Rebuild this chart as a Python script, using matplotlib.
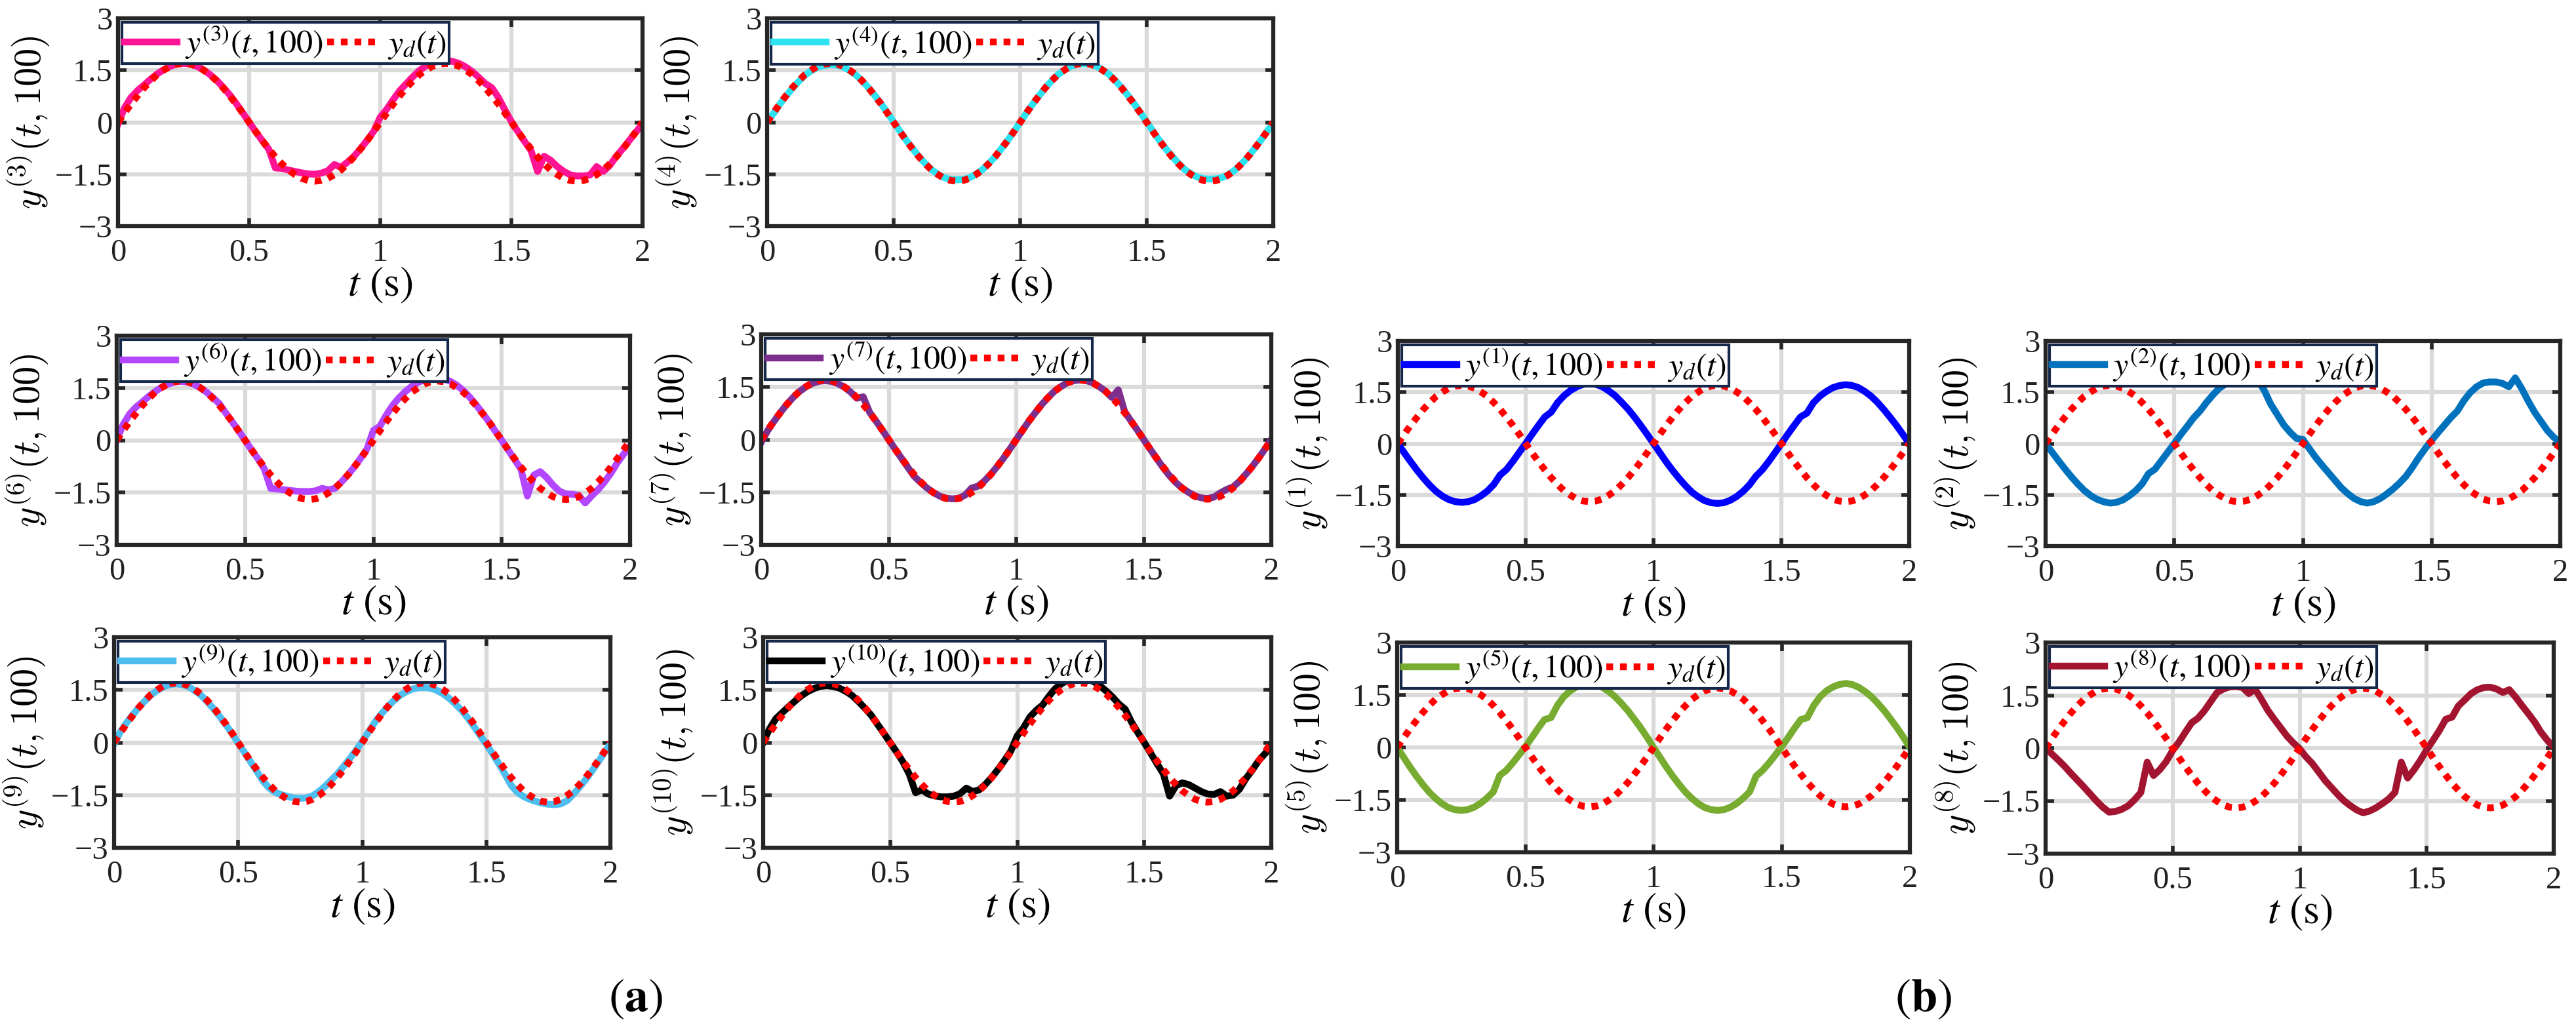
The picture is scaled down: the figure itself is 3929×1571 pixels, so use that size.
import numpy as np
import matplotlib
matplotlib.use('Agg')
from matplotlib import pyplot as plt

plt.rcParams['font.family'] = 'serif'
plt.rcParams['font.serif'] = ['Liberation Serif', 'DejaVu Serif']
plt.rcParams['mathtext.fontset'] = 'stix'
plt.rcParams['axes.unicode_minus'] = True

# time grid of the sampled curves (s), step 0.025
t = np.arange(81) * 0.025

# desired trajectory
y_d = [0.00, 0.27, 0.53, 0.77, 1.00, 1.20, 1.38, 1.51, 1.62, 1.68,
       1.70, 1.68, 1.62, 1.51, 1.38, 1.20, 1.00, 0.77, 0.53, 0.27,
       0.00, -0.27, -0.53, -0.77, -1.00, -1.20, -1.38, -1.51, -1.62, -1.68,
       -1.70, -1.68, -1.62, -1.51, -1.38, -1.20, -1.00, -0.77, -0.53, -0.27,
       0.00, 0.27, 0.53, 0.77, 1.00, 1.20, 1.38, 1.51, 1.62, 1.68,
       1.70, 1.68, 1.62, 1.51, 1.38, 1.20, 1.00, 0.77, 0.53, 0.27,
       0.00, -0.27, -0.53, -0.77, -1.00, -1.20, -1.38, -1.51, -1.62, -1.68,
       -1.70, -1.68, -1.62, -1.51, -1.38, -1.20, -1.00, -0.77, -0.53, -0.27,
       0.00]

# agent outputs after 100 iterations
y_1 = [0.00, -0.27, -0.53, -0.78, -1.01, -1.22, -1.40, -1.54, -1.64, -1.70,
       -1.72, -1.70, -1.64, -1.53, -1.39, -1.20, -0.92, -0.76, -0.52, -0.26,
       0.00, 0.27, 0.53, 0.78, 0.92, 1.20, 1.40, 1.55, 1.66, 1.73,
       1.75, 1.73, 1.66, 1.54, 1.40, 1.21, 1.01, 0.78, 0.53, 0.27,
       0.00, -0.27, -0.54, -0.79, -1.02, -1.23, -1.42, -1.56, -1.67, -1.73,
       -1.75, -1.73, -1.66, -1.55, -1.40, -1.21, -0.96, -0.77, -0.53, -0.27,
       0.00, 0.27, 0.53, 0.78, 0.89, 1.19, 1.38, 1.52, 1.63, 1.69,
       1.72, 1.70, 1.64, 1.53, 1.39, 1.21, 1.00, 0.77, 0.53, 0.27,
       0.00]

y_2 = [0.00, -0.25, -0.50, -0.74, -0.97, -1.18, -1.37, -1.52, -1.63, -1.70,
       -1.74, -1.72, -1.65, -1.53, -1.38, -1.18, -0.88, -0.75, -0.50, -0.25,
       0.00, 0.26, 0.50, 0.75, 0.95, 1.20, 1.42, 1.62, 1.74, 1.81,
       1.84, 1.82, 1.74, 1.84, 1.55, 1.15, 0.85, 0.55, 0.33, 0.15,
       0.12, -0.15, -0.41, -0.64, -0.86, -1.08, -1.30, -1.47, -1.61, -1.70,
       -1.74, -1.70, -1.61, -1.48, -1.33, -1.16, -0.96, -0.70, -0.41, -0.15,
       0.09, 0.32, 0.54, 0.76, 0.95, 1.25, 1.49, 1.66, 1.77, 1.80,
       1.80, 1.76, 1.66, 1.92, 1.61, 1.25, 0.92, 0.65, 0.38, 0.18,
       0.03]

y_3 = [-0.05, 0.42, 0.72, 0.92, 1.08, 1.25, 1.40, 1.52, 1.62, 1.68,
       1.70, 1.68, 1.62, 1.52, 1.38, 1.22, 1.02, 0.80, 0.55, 0.28,
       0.00, -0.27, -0.53, -0.78, -1.32, -1.33, -1.38, -1.42, -1.46, -1.49,
       -1.50, -1.47, -1.40, -1.22, -1.30, -1.15, -0.98, -0.76, -0.52, -0.26,
       0.15, 0.38, 0.66, 0.92, 1.12, 1.32, 1.50, 1.63, 1.72, 1.77,
       1.78, 1.76, 1.70, 1.60, 1.47, 1.30, 1.12, 1.00, 0.72, 0.36,
       0.02, -0.27, -0.55, -0.82, -1.42, -0.98, -1.10, -1.28, -1.42, -1.52,
       -1.55, -1.55, -1.52, -1.28, -1.42, -1.25, -0.98, -0.76, -0.52, -0.28,
       -0.05]

y_4 = [0.00, 0.25, 0.52, 0.76, 0.98, 1.18, 1.36, 1.49, 1.59, 1.64,
       1.66, 1.65, 1.60, 1.50, 1.37, 1.20, 1.00, 0.78, 0.54, 0.28,
       0.01, -0.26, -0.52, -0.76, -0.99, -1.19, -1.37, -1.50, -1.60, -1.65,
       -1.66, -1.65, -1.60, -1.50, -1.37, -1.20, -1.00, -0.77, -0.53, -0.27,
       0.00, 0.27, 0.53, 0.77, 1.00, 1.20, 1.38, 1.51, 1.61, 1.67,
       1.69, 1.68, 1.62, 1.52, 1.39, 1.21, 1.01, 0.78, 0.54, 0.28,
       0.01, -0.26, -0.52, -0.76, -0.98, -1.18, -1.36, -1.49, -1.58, -1.63,
       -1.64, -1.63, -1.59, -1.50, -1.37, -1.20, -1.00, -0.77, -0.53, -0.27,
       -0.02]

y_5 = [0.00, -0.28, -0.56, -0.82, -1.06, -1.28, -1.46, -1.61, -1.72, -1.78,
       -1.80, -1.78, -1.71, -1.60, -1.45, -1.27, -0.80, -0.66, -0.45, -0.22,
       0.02, 0.28, 0.55, 0.80, 0.85, 1.20, 1.45, 1.62, 1.73, 1.80,
       1.83, 1.80, 1.72, 1.60, 1.45, 1.26, 1.05, 0.81, 0.56, 0.29,
       0.00, -0.28, -0.56, -0.82, -1.06, -1.28, -1.46, -1.61, -1.72, -1.78,
       -1.80, -1.78, -1.71, -1.60, -1.45, -1.27, -0.82, -0.66, -0.45, -0.22,
       0.02, 0.28, 0.55, 0.80, 0.85, 1.20, 1.45, 1.62, 1.73, 1.80,
       1.83, 1.80, 1.72, 1.60, 1.45, 1.26, 1.05, 0.81, 0.56, 0.29,
       0.00]

y_6 = [0.00, 0.45, 0.75, 0.95, 1.10, 1.26, 1.40, 1.52, 1.61, 1.67,
       1.69, 1.67, 1.61, 1.51, 1.38, 1.22, 1.05, 0.78, 0.53, 0.27,
       0.00, -0.27, -0.53, -0.82, -1.38, -1.40, -1.42, -1.44, -1.46, -1.47,
       -1.47, -1.45, -1.38, -1.42, -1.38, -1.20, -1.00, -0.77, -0.52, -0.25,
       0.28, 0.40, 0.72, 1.00, 1.22, 1.40, 1.55, 1.66, 1.74, 1.78,
       1.79, 1.76, 1.69, 1.58, 1.43, 1.24, 1.02, 0.78, 0.53, 0.26,
       0.00, -0.28, -0.55, -0.83, -1.60, -1.00, -0.90, -1.07, -1.29, -1.46,
       -1.54, -1.55, -1.58, -1.80, -1.60, -1.42, -1.20, -0.95, -0.65, -0.40,
       -0.17]

y_7 = [-0.08, 0.25, 0.52, 0.77, 1.00, 1.20, 1.37, 1.50, 1.60, 1.66,
       1.68, 1.66, 1.60, 1.50, 1.36, 1.18, 1.22, 0.78, 0.53, 0.27,
       0.00, -0.27, -0.53, -0.79, -1.05, -1.22, -1.38, -1.51, -1.61, -1.67,
       -1.69, -1.67, -1.58, -1.38, -1.33, -1.18, -0.99, -0.77, -0.53, -0.27,
       0.00, 0.27, 0.53, 0.77, 1.00, 1.20, 1.38, 1.51, 1.62, 1.68,
       1.70, 1.68, 1.62, 1.51, 1.38, 1.20, 1.42, 0.80, 0.53, 0.27,
       0.00, -0.27, -0.53, -0.79, -1.02, -1.22, -1.38, -1.50, -1.60, -1.66,
       -1.68, -1.64, -1.52, -1.42, -1.35, -1.19, -0.99, -0.77, -0.53, -0.27,
       0.00]

y_8 = [0.00, -0.17, -0.34, -0.52, -0.72, -0.91, -1.10, -1.30, -1.50, -1.68,
       -1.82, -1.80, -1.74, -1.64, -1.47, -1.26, -0.40, -0.78, -0.61, -0.38,
       -0.07, 0.17, 0.45, 0.72, 0.85, 1.06, 1.32, 1.58, 1.68, 1.74,
       1.75, 1.72, 1.55, 1.67, 1.38, 1.07, 0.82, 0.58, 0.34, 0.15,
       -0.02, -0.25, -0.44, -0.68, -0.92, -1.12, -1.32, -1.50, -1.64, -1.76,
       -1.84, -1.79, -1.70, -1.58, -1.45, -1.26, -0.40, -0.85, -0.62, -0.35,
       -0.05, 0.22, 0.50, 0.82, 0.88, 1.20, 1.37, 1.55, 1.66, 1.72,
       1.73, 1.68, 1.58, 1.66, 1.45, 1.21, 0.98, 0.74, 0.45, 0.22,
       0.02]

y_9 = [-0.04, 0.30, 0.56, 0.79, 1.00, 1.19, 1.36, 1.49, 1.59, 1.65,
       1.67, 1.65, 1.59, 1.48, 1.35, 1.17, 0.97, 0.75, 0.51, 0.26,
       -0.01, -0.28, -0.55, -0.82, -1.10, -1.30, -1.42, -1.49, -1.54, -1.58,
       -1.59, -1.58, -1.52, -1.40, -1.25, -1.07, -0.89, -0.68, -0.46, -0.22,
       0.03, 0.30, 0.57, 0.80, 1.00, 1.18, 1.33, 1.44, 1.52, 1.56,
       1.57, 1.55, 1.49, 1.39, 1.26, 1.10, 0.92, 0.70, 0.46, 0.20,
       -0.05, -0.32, -0.60, -0.90, -1.22, -1.42, -1.54, -1.62, -1.68, -1.73,
       -1.76, -1.77, -1.75, -1.66, -1.48, -1.28, -1.06, -0.82, -0.56, -0.30,
       -0.04]

y_10 = [0.00, 0.39, 0.68, 0.85, 1.02, 1.18, 1.33, 1.45, 1.54, 1.60,
        1.62, 1.60, 1.55, 1.46, 1.34, 1.17, 0.98, 0.78, 0.52, 0.26,
        0.00, -0.27, -0.55, -0.90, -1.43, -1.35, -1.47, -1.52, -1.55, -1.55,
        -1.53, -1.46, -1.30, -1.40, -1.35, -1.19, -0.99, -0.76, -0.51, -0.24,
        0.19, 0.42, 0.73, 0.92, 1.07, 1.32, 1.54, 1.68, 1.78, 1.83,
        1.84, 1.81, 1.74, 1.62, 1.47, 1.30, 1.10, 0.95, 0.58, 0.28,
        0.00, -0.30, -0.60, -0.89, -1.53, -1.23, -1.15, -1.20, -1.30, -1.40,
        -1.47, -1.48, -1.40, -1.53, -1.50, -1.33, -1.03, -0.79, -0.52, -0.32,
        -0.11]

xticks = [0, 0.5, 1, 1.5, 2]
xticklabels = ['0', '0.5', '1', '1.5', '2']
yticks = [-3, -1.5, 0, 1.5, 3]
yticklabels = ['\u22123', '\u22121.5', '0', '1.5', '3']

W, H = 3929, 1571
fig = plt.figure(figsize=(W / 100, H / 100), dpi=100)

# (agent, series, colour, axes box in pixels: left, top, right, bottom)
panels = [
    (3, y_3, '#ff1493', (180, 28, 980, 345)),
    (4, y_4, '#2ee3f0', (1170, 28, 1942, 345)),
    (6, y_6, '#b347ff', (178, 512, 961, 831)),
    (7, y_7, '#7e2f8e', (1161, 510, 1939, 831)),
    (9, y_9, '#4dbeee', (174, 972, 931, 1293)),
    (10, y_10, '#000000', (1164, 972, 1939, 1293)),
    (1, y_1, '#0000ff', (2132, 520, 2912, 833)),
    (2, y_2, '#0072bd', (3120, 520, 3905, 833)),
    (5, y_5, '#77ac30', (2131, 980, 2913, 1300)),
    (8, y_8, '#a2142f', (3120, 980, 3895, 1302)),
]

for idx, ys, col, (l, tp, r, b) in panels:
    ax = fig.add_axes([l / W, 1 - b / H, (r - l) / W, (b - tp) / H])
    ax.plot(t, ys, color=col, lw=7.5, label=r'$y^{(%d)}(t,100)$' % idx)
    ax.plot(t, y_d, color='#ff0000', lw=7.5, dashes=(1.0, 1.0),
            label=r'$y_d(t)$')
    ax.set_xlim(0, 2)
    ax.set_ylim(-3, 3)
    ax.set_xticks(xticks)
    ax.set_xticklabels(xticklabels)
    ax.set_yticks(yticks)
    ax.set_yticklabels(yticklabels)
    ax.grid(True, color='#dadada', lw=4.5)
    ax.set_axisbelow(True)
    for sp in ax.spines.values():
        sp.set_linewidth(4.5)
        sp.set_color('#262626')
    ax.tick_params(direction='in', length=9, width=4, top=True, right=True,
                   color='#262626', labelcolor='#222222', labelsize=35)
    ax.tick_params(axis='x', pad=14)
    ax.tick_params(axis='y', pad=6)
    ax.set_xlabel(r'$t\ (\mathrm{s})$', fontsize=46, labelpad=-2)
    ax.set_ylabel(r'$y^{(%d)}(t, 100)$' % idx, fontsize=42,
                  math_fontfamily='cm')
    ax.yaxis.set_label_coords(-102 / (r - l), 0.5)
    leg = ax.legend(loc='upper left', ncol=2, fontsize=36, frameon=True,
                    fancybox=False, edgecolor='#16284a', framealpha=1,
                    borderpad=0.08, handlelength=1.6, handletextpad=0.25,
                    columnspacing=0.1, borderaxespad=0.12)
    leg.get_frame().set_linewidth(3)

fig.text(969 / W, 1 - 1525 / H, r'$(\mathbf{a})$', ha='center', va='center',
         fontsize=52)
fig.text(2933 / W, 1 - 1525 / H, r'$(\mathbf{b})$', ha='center', va='center',
         fontsize=52)

fig.savefig('out.png', dpi=100)
plt.close(fig)
